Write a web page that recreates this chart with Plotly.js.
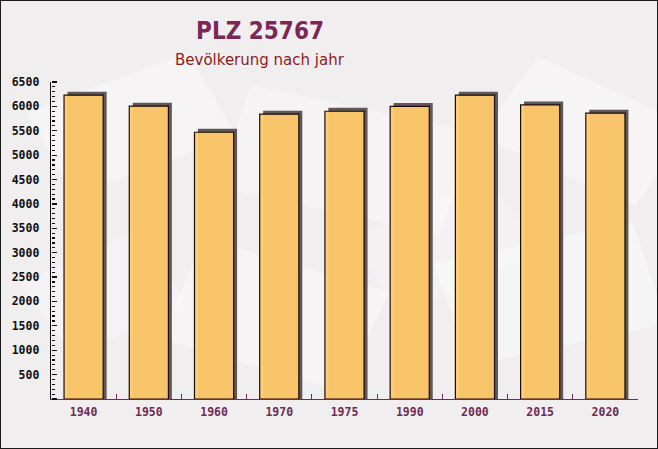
<!DOCTYPE html>
<html>
<head>
<meta charset="utf-8">
<script src="https://cdn.plot.ly/plotly-3.0.1.min.js"></script>
<style>
html,body{margin:0;padding:0;background:#f3f0f2;}
#chart{position:absolute;left:0;top:0;width:658px;height:449px;}
#frame{position:absolute;left:0;top:0;width:658px;height:449px;box-sizing:border-box;border:1px solid #1a1a1a;pointer-events:none;}
</style>
</head>
<body>
<div id="chart"></div><div id="frame"></div>
<script>
const years = ["1940","1950","1960","1970","1975","1990","2000","2015","2020"];
const population = [6230, 6005, 5470, 5840, 5900, 6000, 6230, 6030, 5860];

const shadowLift = 70;
const shadowValues = population.map(v => v + shadowLift);

const bars = {
  type: 'bar', x: years, y: population,
  width: 0.6, offset: -0.3,
  marker: {color: 'rgba(255,202,106,0.95)', line: {color: '#1a0d0d', width: 1.2}},
  hoverinfo: 'skip'
};
const shadow = {
  type: 'bar', x: years, y: shadowValues,
  width: 0.6, offset: -0.247,
  marker: {color: '#5e5858', line: {width: 0}},
  hoverinfo: 'skip'
};
const tickHolder = {
  type: 'scatter', x: [years[0]], y: [population[0]], yaxis: 'y2',
  mode: 'markers', marker: {opacity: 0}, hoverinfo: 'skip'
};

function rect(cx, cy, w, h, ang, fill) {
  const a = ang * Math.PI / 180, c = Math.cos(a), s = Math.sin(a);
  const pts = [[-w/2,-h/2],[w/2,-h/2],[w/2,h/2],[-w/2,h/2]].map(([x,y]) =>
    [(cx + x*c - y*s)/658, 1 - (cy + x*s + y*c)/449]);
  return {type:'path', xref:'paper', yref:'paper', layer:'below', line:{width:0}, fillcolor: fill,
    path: 'M' + pts.map(p => p[0].toFixed(4)+','+p[1].toFixed(4)).join('L') + 'Z'};
}
const deco = [
  rect(90, 60, 200, 130, -25, 'rgba(255,255,255,0.35)'),
  rect(330, 110, 260, 150, 15, 'rgba(255,255,255,0.3)'),
  rect(600, 70, 200, 130, 30, 'rgba(255,255,255,0.35)'),
  rect(250, 330, 220, 150, 20, 'rgba(255,255,255,0.35)'),
  rect(560, 300, 230, 150, -15, 'rgba(255,255,255,0.4)'),
  rect(60, 300, 150, 120, -30, 'rgba(255,255,255,0.25)'),
  rect(440, 230, 180, 120, -30, 'rgba(255,255,255,0.2)')
];

const layout = {
  width: 658, height: 449,
  paper_bgcolor: '#f1eef0', plot_bgcolor: 'rgba(0,0,0,0)',
  margin: {l: 51, r: 20, t: 82, b: 50, pad: 0},
  barmode: 'overlay', showlegend: false,
  title: {text: '<b>PLZ 25767</b>', x: 260/658, xref: 'container', xanchor: 'center',
    y: 1 - 31/449, yref: 'container', yanchor: 'middle',
    font: {family: 'DejaVu Sans Condensed, DejaVu Sans, sans-serif', size: 24, color: '#7b2857'}},
  annotations: [{text: 'Bevölkerung nach jahr', xref: 'paper', yref: 'paper',
    x: (260-51)/587, y: 1, xanchor: 'center', yanchor: 'middle', yshift: 22, showarrow: false,
    font: {family: 'DejaVu Sans, sans-serif', size: 15, color: '#8d1c1c'}}],
  xaxis: {type: 'category', range: [-0.5, 8.5], showgrid: false, zeroline: false,
    showline: true, linecolor: '#6e2c52', linewidth: 1.3,
    ticks: 'inside', tickson: 'boundaries', ticklen: 5, tickcolor: '#6e2c52', tickwidth: 1,
    tickfont: {family: 'DejaVu Sans Mono, monospace', size: 11.5, color: '#6e2c52', weight: 'bold'},
    ticklabelstandoff: 2},
  yaxis: {range: [0, 6500], showgrid: false, zeroline: false,
    showline: true, linecolor: '#111111', linewidth: 1.3,
    tick0: 0, dtick: 500, labelalias: {'0': ' '},
    ticks: '',
    tickfont: {family: 'DejaVu Sans Mono, monospace', size: 11.5, color: '#111', weight: 'bold'},
    ticklabelstandoff: 8},
  yaxis2: {range: [0, 6500], overlaying: 'y', side: 'right', anchor: 'free', position: 0,
    showgrid: false, zeroline: false, showline: false, showticklabels: false,
    tick0: 0, dtick: 500, ticks: 'outside', ticklen: 5, tickcolor: '#111111', tickwidth: 1.2,
    minor: {dtick: 100, ticks: 'outside', ticklen: 3, tickcolor: '#111111', tickwidth: 1.2, showgrid: false}},
  shapes: deco
};
Plotly.newPlot('chart', [shadow, bars, tickHolder], layout, {displayModeBar: false, staticPlot: true});
</script>
</body>
</html>
